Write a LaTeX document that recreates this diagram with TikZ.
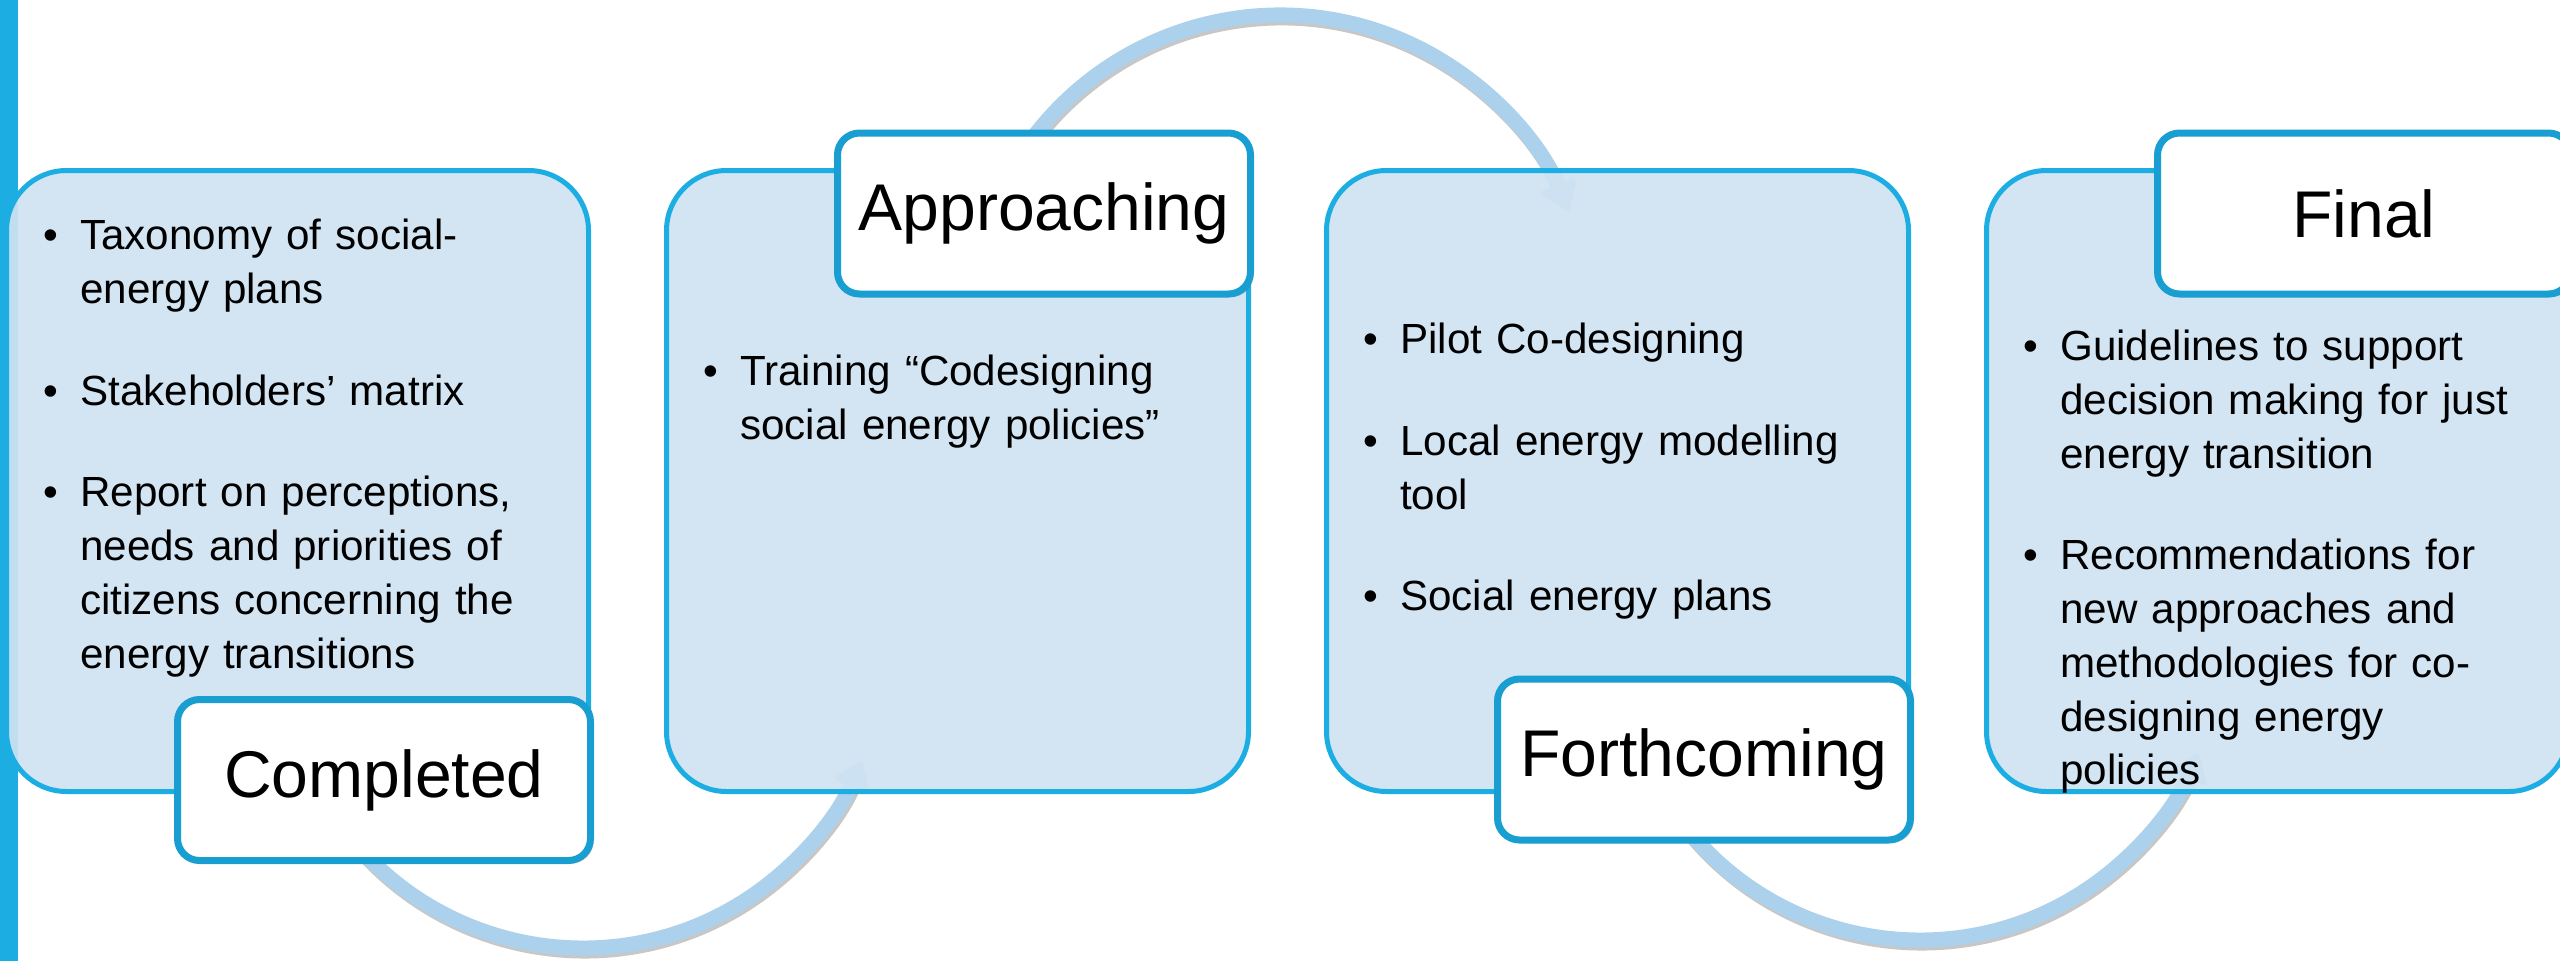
\documentclass[tikz,border=0pt]{standalone}
\usepackage{fontspec}
\setmainfont{Liberation Sans}
\usepackage{enumitem}
\usepackage{tikz}
\definecolor{paleblue}{rgb}{0.81, 0.89, 0.95}
\definecolor{cyanblue}{rgb}{0.11, 0.68, 0.89}
\definecolor{tagblue}{rgb}{0.10, 0.62, 0.82}
\definecolor{swirlblue}{rgb}{0.67, 0.82, 0.93}
\usetikzlibrary{arrows.meta, shadows}
\setlist[itemize]{label=\textbullet, leftmargin=0.37cm, labelwidth=0.15cm, labelsep=0.22cm, align=left, topsep=0pt, partopsep=0pt, parsep=0pt, itemsep=0.48cm}

\begin{document}
\begin{tikzpicture}[
	node distance=6.6cm,
	card/.style={draw=cyanblue, line width=0.05cm, fill=paleblue, fill opacity=0.92, rounded corners=0.6cm, minimum width=5.82cm, minimum height=6.21cm, inner sep=0pt},
	tag/.style={draw=tagblue, line width=0.07cm, fill=white, rounded corners=0.22cm, minimum width=4.13cm, minimum height=1.61cm, font=\fontsize{18.8}{22}\selectfont, drop shadow={shadow xshift=0.03cm, shadow yshift=-0.03cm, opacity=0.35, fill=black!60}},
	bullets/.style={anchor=north west, text width=5.2cm, inner sep=0pt, font=\fontsize{12}{15.3}\selectfont},
	swirl/.style={line width=0.15cm, draw=swirlblue, -{Triangle[width=0.36cm, length=0.26cm]}},
	swirlshade/.style={line width=0.15cm, draw=black, draw opacity=0.22, -{Triangle[width=0.36cm, length=0.26cm]}, transform canvas={shift={(0.015cm,-0.03cm)}}}
]
	\useasboundingbox (0,0) rectangle (25.6,-9.61);
	\clip (0,0) rectangle (25.6,-9.61);
	
	\fill[cyanblue] (0,0) rectangle (0.18,-9.61);
	
	\coordinate (hub1) at (5.83,-6.48);
	\coordinate (hub2) at (12.80,-3.25);
	\coordinate (hub3) at (19.20,-6.40);
	
	\draw[swirlshade] ([shift={(-145:3cm)}]hub1) arc[start angle=-145, end angle=-22, radius=3cm];
	\draw[swirlshade] ([shift={(152:3.1cm)}]hub2) arc[start angle=152, end angle=22, radius=3.1cm];
	\draw[swirlshade] ([shift={(-145:3cm)}]hub3) arc[start angle=-145, end angle=-22, radius=3cm];
	
	\draw[swirl] ([shift={(-145:3cm)}]hub1) arc[start angle=-145, end angle=-22, radius=3cm];
	\draw[swirl] ([shift={(152:3.1cm)}]hub2) arc[start angle=152, end angle=22, radius=3.1cm];
	\draw[swirl] ([shift={(-145:3cm)}]hub3) arc[start angle=-145, end angle=-22, radius=3cm];
	
	\node[card] (box1) at (2.975,-4.81) {};
	
	\node[card, right of=box1] (box2) {};
	
	\node[card, right of=box2] (box3) {};
	
	\node[card, right of=box3] (box4) {};
	
	\node[bullets, xshift=0.385cm, yshift=-0.27cm] (list1) at (box1.north west) {\raggedright
		\begin{itemize}
			\item Taxonomy of social-\\energy plans
			\item Stakeholders’ matrix
			\item Report on perceptions,\\needs and priorities of\\citizens concerning the\\energy transitions
		\end{itemize}};
	
	\node[bullets, xshift=0.385cm, yshift=-1.63cm] (list2) at (box2.north west) {\raggedright
		\begin{itemize}
			\item Training “Codesigning\\social energy policies”
		\end{itemize}};
	
	\node[bullets, xshift=0.385cm, yshift=-1.31cm] (list3) at (box3.north west) {\raggedright
		\begin{itemize}
			\item Pilot Co-designing
			\item Local energy modelling\\tool
			\item Social energy plans
		\end{itemize}};
	
	\node[bullets, xshift=0.385cm, yshift=-1.38cm] (list4) at (box4.north west) {\raggedright
		\begin{itemize}
			\item Guidelines to support\\decision making for just\\energy transition
			\item Recommendations for\\new approaches and\\methodologies for co-\\designing energy\\policies
		\end{itemize}};
	
	\node[tag, xshift=-2.07cm, yshift=0.14cm] (done) at (box1.south east) {Completed};
	
	\node[tag, xshift=-2.07cm, yshift=-0.455cm] (near) at (box2.north east) {Approaching};
	
	\node[tag, xshift=-2.07cm, yshift=0.345cm] (soon) at (box3.south east) {Forthcoming};
	
	\node[tag, xshift=-2.07cm, yshift=-0.455cm] (last) at (box4.north east) {Final};
\end{tikzpicture}
\end{document}
